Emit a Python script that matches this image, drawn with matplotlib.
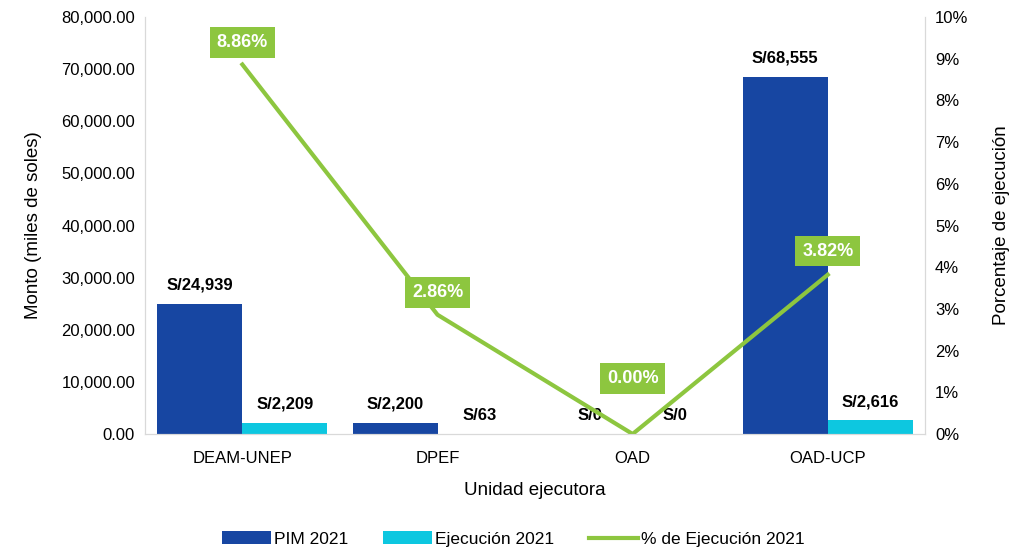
import numpy as np
import matplotlib.pyplot as plt
from matplotlib.ticker import FuncFormatter

plt.rcParams['font.family'] = ['Liberation Sans', 'DejaVu Sans']

unidades = ['DEAM-UNEP', 'DPEF', 'OAD', 'OAD-UCP']
pim = [24939, 2200, 0, 68555]
ejecucion = [2209, 63, 0, 2616]
pct_ejec = [8.86, 2.86, 0.00, 3.82]

c_pim = '#1746A2'
c_ejec = '#0DC7E0'
c_line = '#8DC63F'

fig = plt.figure(figsize=(10.27, 5.48), dpi=100)
ax = fig.add_axes([0.141, 0.208, 0.76, 0.761])
ax2 = ax.twinx()

x = np.arange(len(unidades))
w = 0.435
b1 = ax.bar(x - w / 2, pim, w, color=c_pim, label='PIM 2021')
b2 = ax.bar(x + w / 2, ejecucion, w, color=c_ejec, label='Ejecución 2021')

for bars, vals in ((b1, pim), (b2, ejecucion)):
    for b, v in zip(bars, vals):
        ax.annotate(f'S/{v:,}', (b.get_x() + b.get_width() / 2, v),
                    xytext=(0, 8), textcoords='offset points',
                    ha='center', va='bottom', fontsize=12, fontweight='bold')

ln, = ax2.plot(x, pct_ejec, color=c_line, lw=3, label='% de Ejecución 2021')
offs = [16, 16, 40, 17]
for xi, p, o in zip(x, pct_ejec, offs):
    ax2.annotate(f'{p:.2f}%', (xi, p), xytext=(0, o), textcoords='offset points',
                 ha='center', va='center', fontsize=13, fontweight='bold',
                 color='white',
                 bbox=dict(boxstyle='square,pad=0.38', fc=c_line, ec='none'))

ax.set_xlim(-0.5, 3.5)
ax.set_ylim(0, 80000)
ax.set_yticks(np.arange(0, 80001, 10000))
ax.yaxis.set_major_formatter(FuncFormatter(lambda v, _: f'{v:,.2f}'))
ax2.set_ylim(0, 10)
ax2.set_yticks(np.arange(0, 11, 1))
ax2.yaxis.set_major_formatter(FuncFormatter(lambda v, _: f'{v:.0f}%'))

ax.set_xticks(x)
ax.set_xticklabels(unidades)
for a in (ax, ax2):
    a.tick_params(labelsize=12, length=0, pad=7)
    for s in a.spines.values():
        s.set_color('#D9D9D9')
    a.spines['top'].set_visible(False)
ax.tick_params(axis='x', pad=12)

ax.set_ylabel('Monto (miles de soles)', fontsize=13.5, labelpad=14)
ax2.set_ylabel('Porcentaje de ejecución', fontsize=13.5, labelpad=18)
ax.set_xlabel('Unidad ejecutora', fontsize=13.5, labelpad=12)

fig.legend(handles=[b1, b2, ln], loc='lower center', bbox_to_anchor=(0.5, -0.026),
           ncol=3, frameon=False, fontsize=12.5, handlelength=2.8,
           handletextpad=0.2, columnspacing=2.0)

fig.savefig('out.png', dpi=100)
